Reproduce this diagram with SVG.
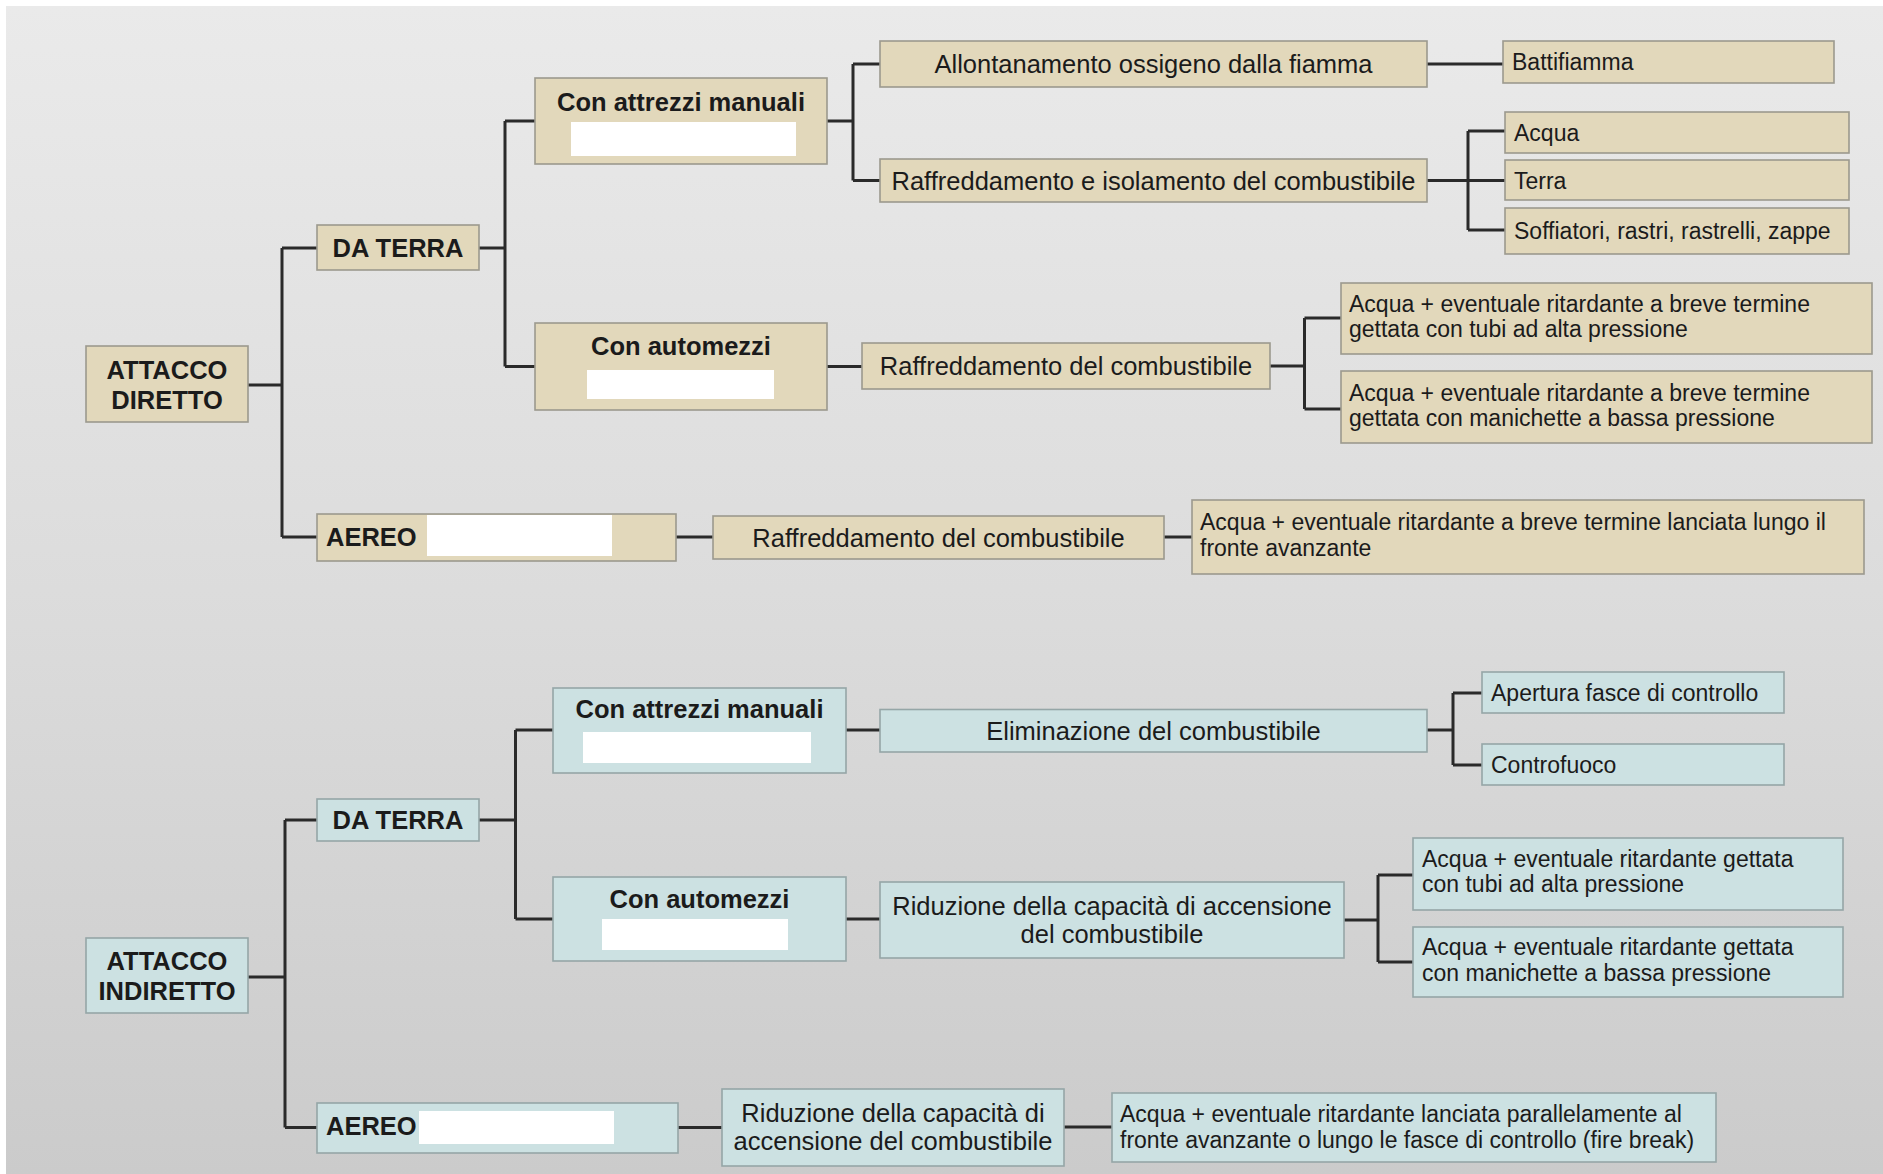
<svg xmlns="http://www.w3.org/2000/svg" width="1883" height="1174" viewBox="0 0 1883 1174">
<defs>
<linearGradient id="bg" x1="0" y1="0" x2="0" y2="1">
<stop offset="0" stop-color="#eaeaea"/>
<stop offset="0.5" stop-color="#dcdcdc"/>
<stop offset="1" stop-color="#cbcbcb"/>
</linearGradient>
<style>
.b{fill:#e2d8bb;stroke:#9c998e;stroke-width:1.6}
.c{fill:#cce1e2;stroke:#95a6a7;stroke-width:1.6}
.w{fill:#ffffff;stroke:none}
text{font-family:"Liberation Sans",Arial,sans-serif;fill:#1b1b1b}
.h{font-size:25.5px;font-weight:bold}
.m{font-size:25.5px}
.s{font-size:23px}
.mid{text-anchor:middle}
.ln{fill:none;stroke:#2a2a2a;stroke-width:3}
</style>
</defs>
<rect x="0" y="0" width="1883" height="1174" fill="#ffffff"/>
<rect x="6" y="6" width="1877" height="1168" fill="url(#bg)"/>

<g id="connectors">
<path class="ln" d="M248,385H282M282,248V537M282,248H317M282,537H317"/>
<path class="ln" d="M479,248H505M505,121V366.5M505,121H535M505,366.5H535"/>
<path class="ln" d="M827,121H853M853,64V180.5M853,64H880M853,180.5H880"/>
<path class="ln" d="M1427,64H1503"/>
<path class="ln" d="M1427,180.5H1505M1468,131V230M1468,131H1505M1468,230H1505"/>
<path class="ln" d="M827,366.5H862"/>
<path class="ln" d="M1270,366H1304.5M1304.5,318V409M1304.5,318H1341M1304.5,409H1341"/>
<path class="ln" d="M676,537H713"/>
<path class="ln" d="M1164,537H1192"/>
<path class="ln" d="M248,977H285M285,820V1127.5M285,820H317M285,1127.5H317"/>
<path class="ln" d="M479,820H515.5M515.5,730V919M515.5,730H553M515.5,919H553"/>
<path class="ln" d="M846,730H880"/>
<path class="ln" d="M1427,730H1453M1453,693V765M1453,693H1482M1453,765H1482"/>
<path class="ln" d="M846,919H880"/>
<path class="ln" d="M1344,920H1378M1378,875V962M1378,875H1413M1378,962H1413"/>
<path class="ln" d="M678,1127.5H722"/>
<path class="ln" d="M1064,1127H1112"/>
</g>

<g id="diretto">
<rect class="b" x="86" y="346" width="162" height="76"/>
<text class="h mid" x="167" y="379">ATTACCO</text>
<text class="h mid" x="167" y="409">DIRETTO</text>
</g>
<g id="d-terra">
<rect class="b" x="317" y="225" width="162" height="45"/>
<text class="h mid" x="398" y="257">DA TERRA</text>
</g>
<g id="d-manuali">
<rect class="b" x="535" y="78" width="292" height="86"/>
<text class="h mid" x="681" y="111">Con attrezzi manuali</text>
<rect class="w" x="571" y="122" width="225" height="34"/>
</g>
<g id="d-automezzi">
<rect class="b" x="535" y="323" width="292" height="87"/>
<text class="h mid" x="681" y="355">Con automezzi</text>
<rect class="w" x="587" y="370" width="187" height="29"/>
</g>
<g id="d-aereo">
<rect class="b" x="317" y="514" width="359" height="47"/>
<text class="h" x="326" y="546">AEREO</text>
<rect class="w" x="427" y="515" width="185" height="41"/>
</g>
<g id="d-allontanamento">
<rect class="b" x="880" y="41" width="547" height="46"/>
<text class="m mid" x="1153.5" y="73">Allontanamento ossigeno dalla fiamma</text>
</g>
<g id="d-raff-iso">
<rect class="b" x="880" y="159" width="547" height="43"/>
<text class="m mid" x="1153.5" y="189.5">Raffreddamento e isolamento del combustibile</text>
</g>
<g id="d-battifiamma">
<rect class="b" x="1503" y="41" width="331" height="42"/>
<text class="s" x="1512" y="70">Battifiamma</text>
</g>
<g id="d-acqua">
<rect class="b" x="1505" y="112" width="344" height="41"/>
<text class="s" x="1514" y="140.5">Acqua</text>
</g>
<g id="d-terra2">
<rect class="b" x="1505" y="160" width="344" height="40"/>
<text class="s" x="1514" y="188.5">Terra</text>
</g>
<g id="d-soffiatori">
<rect class="b" x="1505" y="208" width="344" height="46"/>
<text class="s" x="1514" y="239">Soffiatori, rastri, rastrelli, zappe</text>
</g>
<g id="d-raff1">
<rect class="b" x="862" y="343" width="408" height="46"/>
<text class="m mid" x="1066" y="375">Raffreddamento del combustibile</text>
</g>
<g id="d-tubi">
<rect class="b" x="1341" y="283" width="531" height="71"/>
<text class="s" x="1349" y="312">Acqua + eventuale ritardante a breve termine</text>
<text class="s" x="1349" y="337">gettata con tubi ad alta pressione</text>
</g>
<g id="d-manichette">
<rect class="b" x="1341" y="371" width="531" height="72"/>
<text class="s" x="1349" y="400.5">Acqua + eventuale ritardante a breve termine</text>
<text class="s" x="1349" y="425.5">gettata con manichette a bassa pressione</text>
</g>
<g id="d-raff2">
<rect class="b" x="713" y="516" width="451" height="43"/>
<text class="m mid" x="938.5" y="546.5">Raffreddamento del combustibile</text>
</g>
<g id="d-lanciata">
<rect class="b" x="1192" y="500" width="672" height="74"/>
<text class="s" x="1200" y="530">Acqua + eventuale ritardante a breve termine lanciata lungo il</text>
<text class="s" x="1200" y="556">fronte avanzante</text>
</g>

<g id="indiretto">
<rect class="c" x="86" y="938" width="162" height="75"/>
<text class="h mid" x="167" y="970">ATTACCO</text>
<text class="h mid" x="167" y="1000">INDIRETTO</text>
</g>
<g id="i-terra">
<rect class="c" x="317" y="799" width="162" height="42"/>
<text class="h mid" x="398" y="829">DA TERRA</text>
</g>
<g id="i-manuali">
<rect class="c" x="553" y="688" width="293" height="85"/>
<text class="h mid" x="699.5" y="718">Con attrezzi manuali</text>
<rect class="w" x="583" y="732" width="228" height="31"/>
</g>
<g id="i-automezzi">
<rect class="c" x="553" y="877" width="293" height="84"/>
<text class="h mid" x="699.5" y="908">Con automezzi</text>
<rect class="w" x="602" y="919" width="186" height="31"/>
</g>
<g id="i-aereo">
<rect class="c" x="317" y="1103" width="361" height="50"/>
<text class="h" x="326" y="1135">AEREO</text>
<rect class="w" x="419" y="1111" width="195" height="33"/>
</g>
<g id="i-eliminazione">
<rect class="c" x="880" y="709.5" width="547" height="42.5"/>
<text class="m mid" x="1153.5" y="740">Eliminazione del combustibile</text>
</g>
<g id="i-apertura">
<rect class="c" x="1482" y="672" width="302" height="41"/>
<text class="s" x="1491" y="700.5">Apertura fasce di controllo</text>
</g>
<g id="i-controfuoco">
<rect class="c" x="1482" y="744" width="302" height="41"/>
<text class="s" x="1491" y="772.5">Controfuoco</text>
</g>
<g id="i-riduzione1">
<rect class="c" x="880" y="882" width="464" height="76"/>
<text class="m mid" x="1112" y="914.5">Riduzione della capacità di accensione</text>
<text class="m mid" x="1112" y="943">del combustibile</text>
</g>
<g id="i-tubi">
<rect class="c" x="1413" y="838" width="430" height="72"/>
<text class="s" x="1422" y="867">Acqua + eventuale ritardante gettata</text>
<text class="s" x="1422" y="892">con tubi ad alta pressione</text>
</g>
<g id="i-manichette">
<rect class="c" x="1413" y="927" width="430" height="70"/>
<text class="s" x="1422" y="955">Acqua + eventuale ritardante gettata</text>
<text class="s" x="1422" y="981">con manichette a bassa pressione</text>
</g>
<g id="i-riduzione2">
<rect class="c" x="722" y="1089" width="342" height="77"/>
<text class="m mid" x="893" y="1121.5">Riduzione della capacità di</text>
<text class="m mid" x="893" y="1150">accensione del combustibile</text>
</g>
<g id="i-lanciata">
<rect class="c" x="1112" y="1093" width="604" height="69"/>
<text class="s" x="1120" y="1121.5">Acqua + eventuale ritardante lanciata parallelamente al</text>
<text class="s" x="1120" y="1148">fronte avanzante o lungo le fasce di controllo (fire break)</text>
</g>
</svg>
